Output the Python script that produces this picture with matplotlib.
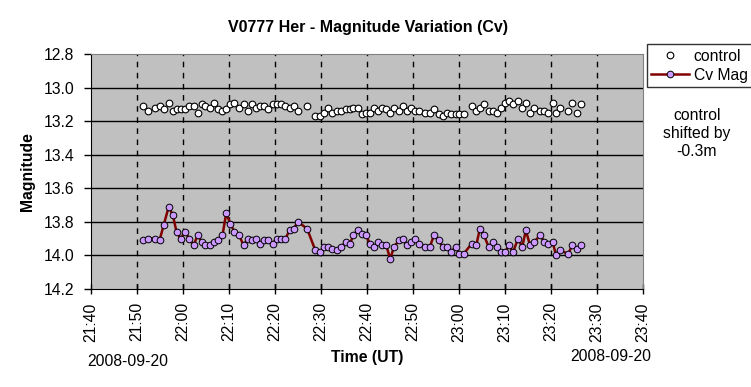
import matplotlib
matplotlib.use("Agg")
import matplotlib.pyplot as plt
import matplotlib.dates as mdates
import pandas as pd

plt.rcParams["font.family"] = ["Liberation Sans", "DejaVu Sans"]

# observation times, minutes after 2008-09-20 21:00 UT
minutes = [
    51.2, 52.3, 53.9, 54.9, 55.8, 56.9, 57.8, 58.6, 59.5, 60.4,
    61.4, 62.3, 63.2, 64.1, 64.9, 65.8, 66.8, 67.7, 68.6, 69.4,
    70.3, 71.2, 72.2, 73.2, 74.1, 75.0, 75.9, 76.8, 77.7, 78.6,
    79.5, 80.4, 81.3, 82.3, 83.2, 84.1, 85.0, 87.0, 88.8, 89.8,
    90.7, 91.5, 92.5, 93.5, 94.4, 95.4, 96.3, 97.1, 98.0, 98.9,
    99.8, 100.7, 101.6, 102.5, 103.3, 104.2, 105.1, 105.9, 107.0, 107.8,
    108.7, 109.6, 110.5, 111.4, 112.7, 113.7, 114.6, 115.6, 116.5, 117.4,
    118.3, 119.3, 120.1, 121.1, 122.8, 123.8, 124.6, 125.5, 126.5, 127.5,
    128.3, 129.2, 130.1, 130.9, 131.8, 132.9, 133.8, 134.6, 135.5, 136.4,
    137.7, 138.6, 139.5, 140.4, 141.2, 142.0, 143.8, 144.7, 145.7, 146.6,
]

cv_mag = [
    13.91, 13.90, 13.90, 13.91, 13.82, 13.71, 13.76, 13.86, 13.90, 13.86,
    13.90, 13.94, 13.88, 13.92, 13.94, 13.94, 13.92, 13.91, 13.88, 13.75,
    13.81, 13.86, 13.88, 13.94, 13.90, 13.91, 13.90, 13.93, 13.91, 13.91,
    13.93, 13.90, 13.90, 13.90, 13.85, 13.84, 13.80, 13.84, 13.97, 13.98,
    13.95, 13.95, 13.96, 13.97, 13.95, 13.92, 13.93, 13.88, 13.85, 13.87,
    13.88, 13.93, 13.95, 13.92, 13.94, 13.94, 14.02, 13.95, 13.91, 13.90,
    13.94, 13.92, 13.90, 13.93, 13.95, 13.95, 13.88, 13.91, 13.95, 13.95,
    13.98, 13.95, 13.99, 13.99, 13.93, 13.94, 13.84, 13.88, 13.95, 13.92,
    13.95, 13.98, 13.98, 13.94, 13.98, 13.90, 13.95, 13.85, 13.94, 13.92,
    13.88, 13.92, 13.93, 13.92, 14.00, 13.97, 13.99, 13.94, 13.96, 13.94,
]

# comparison star, already shifted by -0.3 mag
control = [
    13.11, 13.14, 13.12, 13.11, 13.13, 13.09, 13.14, 13.13, 13.13, 13.13,
    13.11, 13.11, 13.15, 13.10, 13.11, 13.12, 13.09, 13.13, 13.14, 13.13,
    13.10, 13.09, 13.12, 13.10, 13.14, 13.10, 13.12, 13.11, 13.11, 13.13,
    13.10, 13.10, 13.10, 13.11, 13.12, 13.11, 13.14, 13.11, 13.17, 13.17,
    13.15, 13.12, 13.15, 13.14, 13.14, 13.13, 13.13, 13.12, 13.12, 13.16,
    13.15, 13.15, 13.12, 13.14, 13.12, 13.13, 13.15, 13.12, 13.14, 13.11,
    13.14, 13.12, 13.14, 13.14, 13.15, 13.15, 13.13, 13.16, 13.17, 13.15,
    13.16, 13.16, 13.16, 13.16, 13.11, 13.14, 13.12, 13.10, 13.14, 13.14,
    13.15, 13.12, 13.09, 13.08, 13.10, 13.08, 13.12, 13.09, 13.15, 13.12,
    13.14, 13.14, 13.15, 13.09, 13.15, 13.12, 13.14, 13.09, 13.15, 13.10,
]

y_ticks = [12.8, 13.0, 13.2, 13.4, 13.6, 13.8, 14.0, 14.2]
date_label = "2008-09-20"

base = pd.Timestamp("2008-09-20 21:00")
times = [base + pd.Timedelta(minutes=m) for m in minutes]
x_start = pd.Timestamp("2008-09-20 21:40")
x_end = pd.Timestamp("2008-09-20 23:40")

fig = plt.figure(figsize=(7.51, 3.87), dpi=100)
ax = fig.add_axes([0.1212, 0.2532, 0.7345, 0.6073])
ax.set_facecolor("#C0C0C0")

ax.plot(times, control, linestyle="none", marker="o", markersize=4.8,
        markerfacecolor="white", markeredgecolor="black", markeredgewidth=0.8,
        label="control", zorder=4)
ax.plot(times, cv_mag, color="#800000", linewidth=1.8, marker="o", markersize=4.8,
        markerfacecolor="#CC99FF", markeredgecolor="black", markeredgewidth=0.7,
        label="Cv Mag", zorder=5)

ax.set_xlim(x_start, x_end)
ax.set_ylim(14.2, 12.8)
ax.set_yticks(y_ticks)
ax.set_yticklabels([f"{v:.1f}" for v in y_ticks])
ax.xaxis.set_major_locator(mdates.MinuteLocator(byminute=range(0, 60, 10)))
ax.xaxis.set_major_formatter(mdates.DateFormatter("%H:%M"))
plt.setp(ax.get_xticklabels(), rotation=90)

for v in y_ticks[1:-1]:
    ax.axhline(v, color="black", linewidth=1.0, zorder=1)
for t in pd.date_range("2008-09-20 21:50", "2008-09-20 23:30", freq="10min"):
    ax.axvline(t, color="black", linewidth=1.0, linestyle=(0, (4, 4)), zorder=1)

ax.tick_params(axis="both", labelsize=11.3, colors="black", length=5, width=1)
ax.tick_params(axis="x", direction="inout", length=7, pad=6)
ax.tick_params(axis="y", direction="out", pad=7)
for side in ("top", "right"):
    ax.spines[side].set_color("#808080")
for side in ("left", "bottom"):
    ax.spines[side].set_color("black")

fig.text(0.490, 0.930, "V0777 Her - Magnitude Variation (Cv)", ha="center", va="center",
         fontsize=11.5, fontweight="bold")
fig.text(0.037, 0.557, "Magnitude", rotation=90, ha="center", va="center",
         fontsize=11.3, fontweight="bold")
fig.text(0.489, 0.077, "Time (UT)", ha="center", va="center",
         fontsize=11.3, fontweight="bold")
fig.text(0.170, 0.067, date_label, ha="center", va="center", fontsize=11.3)
fig.text(0.813, 0.080, date_label, ha="center", va="center", fontsize=11.3)
fig.text(0.928, 0.655, "control\nshifted by\n-0.3m", ha="center", va="center",
         fontsize=11.3, linespacing=1.25)

leg = ax.legend(loc="upper left", bbox_to_anchor=(0.861, 0.886), bbox_transform=fig.transFigure,
                fontsize=11.3, frameon=True, fancybox=False, borderpad=0.3,
                handlelength=2.4, handletextpad=0.3, labelspacing=0.25, borderaxespad=0)
leg.get_frame().set_edgecolor("black")
leg.get_frame().set_linewidth(1.0)

fig.savefig("out.png", dpi=100)
